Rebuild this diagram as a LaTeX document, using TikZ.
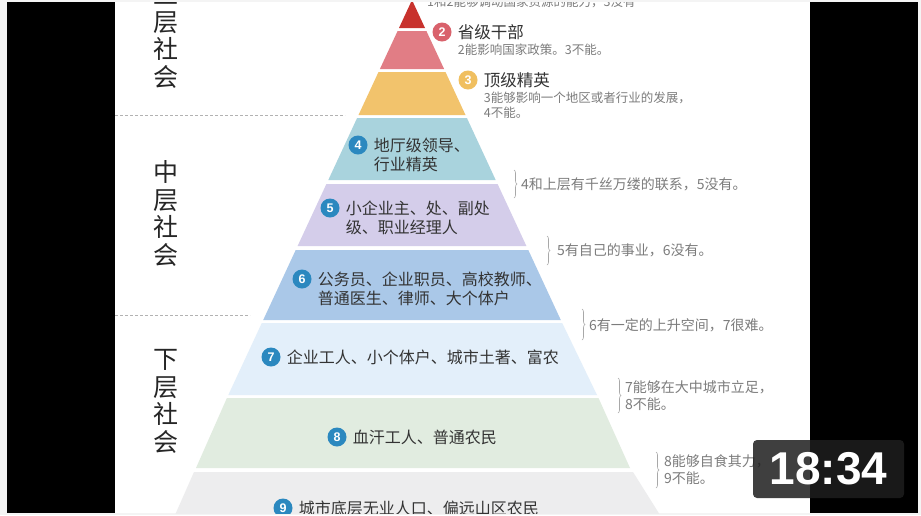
\documentclass[tikz,border=0pt]{standalone}
\usepackage{fontspec}
\newfontfamily\cjk{Noto Sans CJK SC}
\newfontfamily\badgefont{Liberation Sans}
\usetikzlibrary{positioning,decorations.pathreplacing}
\definecolor{framegray}{HTML}{F4F4F4}
\definecolor{lay1}{HTML}{C8322D}
\definecolor{lay2}{HTML}{E17D85}
\definecolor{lay3}{HTML}{F2C36C}
\definecolor{lay4}{HTML}{A9D3DD}
\definecolor{lay5}{HTML}{D4CDEA}
\definecolor{lay6}{HTML}{AAC8E8}
\definecolor{lay7}{HTML}{E3EFFA}
\definecolor{lay8}{HTML}{E1ECE0}
\definecolor{lay9}{HTML}{EDEDEE}
\definecolor{numblue}{HTML}{2B88BF}
\definecolor{numpink}{HTML}{D9626C}
\definecolor{numgold}{HTML}{F0BF60}
\definecolor{ink}{HTML}{333333}
\definecolor{notegray}{HTML}{7C7C7C}
\definecolor{bracegray}{HTML}{A8A8A8}
\definecolor{badgegray}{HTML}{1E1E1E}

\begin{document}
\begin{tikzpicture}[x=1pt,y=-1pt, every node/.style={font=\cjk,inner sep=0pt}, num/.style={circle,fill=numblue,text=white,minimum size=19pt,font=\badgefont\bfseries\fontsize{12.5}{12.5}\selectfont}, lbl/.style={text=ink,align=left,font=\cjk\fontsize{16}{19}\selectfont}, head/.style={text=ink,font=\cjk\fontsize{16.5}{18}\selectfont}, note/.style={text=notegray,align=left,anchor=west,font=\cjk\fontsize{14}{17}\selectfont}, topnote/.style={text=notegray,align=left,font=\cjk\fontsize{12.5}{14.5}\selectfont}, side/.style={text=black!85,align=center,font=\cjk\fontsize{25}{27.5}\selectfont}, sep/.style={draw=black!30,dash pattern=on 3pt off 2pt,line width=0.8pt}, brc/.style={draw=bracegray,line width=0.6pt,decorate,decoration={brace,amplitude=3pt}}]
\useasboundingbox (0,0) rectangle (921,515);
\fill[framegray] (0,0) rectangle (921,515);
\fill[black] (7,2) rectangle (918,513);
\fill[white] (115,2) rectangle (810,513);
\begin{scope}
\clip (115,2) rectangle (810,513);
\fill[lay1] (412,0) -- (425,28) -- (399,28) -- cycle;
\fill[lay2] (397.6,31) -- (426.4,31) -- (444.1,69) -- (379.9,69) -- cycle;
\fill[lay3] (378.5,72) -- (445.5,72) -- (465.5,115) -- (358.5,115) -- cycle;
\fill[lay4] (357.1,118) -- (466.9,118) -- (495.7,180) -- (328.3,180) -- cycle;
\fill[lay5] (326.4,184) -- (497.6,184) -- (526.4,246) -- (297.6,246) -- cycle;
\fill[lay6] (295.7,250) -- (528.3,250) -- (560.8,320) -- (263.2,320) -- cycle;
\fill[lay7] (261.8,323) -- (562.2,323) -- (597,395) -- (228.3,395) -- cycle;
\fill[lay8] (226.9,398) -- (598.5,398) -- (630,468) -- (196,468) -- cycle;
\fill[lay9] (194,472) -- (633,472) -- (660,515) -- (175,515) -- cycle;
\draw[sep] (115,115) -- (345,115);
\draw[sep] (115,315) -- (250,315);
\node[side] (upper) at (166,35.75) {上\\层\\社\\会};
\node[side] (middle) at (166,213.25) {中\\层\\社\\会};
\node[side] (lower) at (166,401.25) {下\\层\\社\\会};
\node[topnote,anchor=base west] (n1) at (427,6) {1和2能够调动国家资源的能力，3没有};
\node[num,fill=numpink] (c2) at (442,32) {2};
\node[head,right=6pt of c2] (t2) {省级干部};
\node[topnote,below=4pt of t2.south west,anchor=north west] (n2) {2能影响国家政策。3不能。};
\node[num,fill=numgold] (c3) at (468,80) {3};
\node[head,right=6pt of c3] (t3) {顶级精英};
\node[topnote,below=4pt of t3.south west,anchor=north west] (n3) {3能够影响一个地区或者行业的发展，\\4不能。};
\node[num] (c4) at (358,145) {4};
\node[lbl,right=6pt of c4,yshift=-9.5pt] (t4) {地厅级领导、\\行业精英};
\node[num] (c5) at (330,208) {5};
\node[lbl,right=6pt of c5,yshift=-9.5pt] (t5) {小企业主、处、副处\\级、职业经理人};
\node[num] (c6) at (302,279) {6};
\node[lbl,right=6pt of c6,yshift=-9.5pt] (t6) {公务员、企业职员、高校教师、\\普通医生、律师、大个体户};
\node[num] (c7) at (271,357) {7};
\node[lbl,right=6pt of c7] (t7) {企业工人、小个体户、城市土著、富农};
\node[num] (c8) at (337,437) {8};
\node[lbl,right=6pt of c8] (t8) {血汗工人、普通农民};
\node[num] (c9) at (283,508) {9};
\node[lbl,right=6pt of c9] (t9) {城市底层无业人口、偏远山区农民};
\node[note] (n4) at (521,184) {4和上层有千丝万缕的联系，5没有。};
\node[note] (n5) at (557,250) {5有自己的事业，6没有。};
\node[note] (n6) at (589,325) {6有一定的上升空间，7很难。};
\node[note] (n7) at (625,396) {7能够在大中城市立足，\\8不能。};
\node[note] (n8) at (664,470) {8能够自食其力，\\9不能。};
\draw[brc] ([xshift=-7pt,yshift=14pt]n4.west) -- ([xshift=-7pt,yshift=-14pt]n4.west);
\draw[brc] ([xshift=-10pt,yshift=14pt]n5.west) -- ([xshift=-10pt,yshift=-15pt]n5.west);
\draw[brc] ([xshift=-7pt,yshift=16pt]n6.west) -- ([xshift=-7pt,yshift=-15pt]n6.west);
\draw[brc] ([xshift=-7pt,yshift=18pt]n7.west) -- ([xshift=-7pt,yshift=-17pt]n7.west);
\draw[brc] ([xshift=-8pt,yshift=18pt]n8.west) -- ([xshift=-8pt,yshift=-18pt]n8.west);
\end{scope}
\node[fill=badgegray,fill opacity=0.85,text opacity=1,rounded corners=4pt,minimum width=151pt,minimum height=58pt,text=white,font=\badgefont\bfseries\fontsize{46}{46}\selectfont] (time) at (828.5,469) {18:34};
\end{tikzpicture}
\end{document}
